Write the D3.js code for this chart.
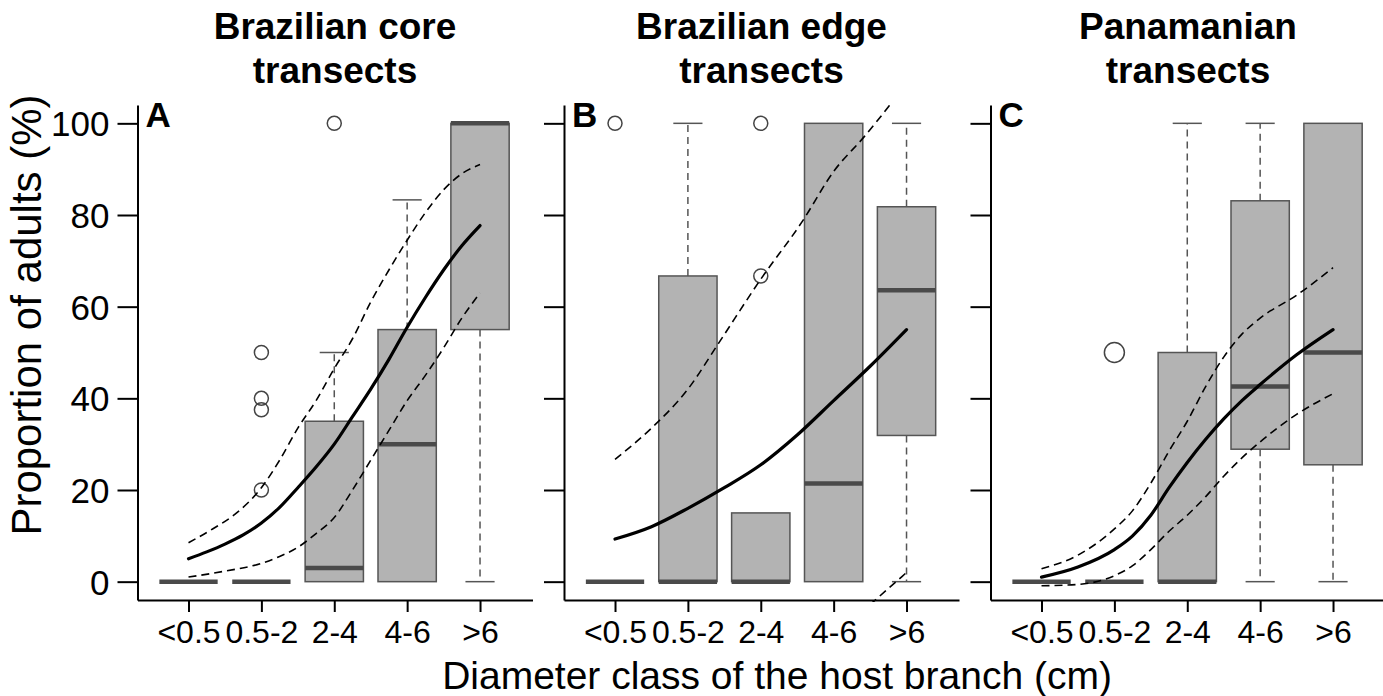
<!DOCTYPE html>
<html>
<head>
<meta charset="utf-8">
<script src="https://cdn.jsdelivr.net/npm/d3@7"></script>
<style>
  body { margin: 0; background: #fff; }
  text { font-family: "Liberation Sans", Arial, Helvetica, sans-serif; }
</style>
</head>
<body>
<script>
var categories = ["<0.5", "0.5-2", "2-4", "4-6", ">6"];
var yTicks = [0, 20, 40, 60, 80, 100];
var titles = [["Brazilian core", "transects"], ["Brazilian edge", "transects"], ["Panamanian", "transects"]];
var letters = ["A", "B", "C"];

// box stats per class: [lower whisker, Q1, median, Q3, upper whisker]
var coreBoxes = [[0, 0, 0, 0, 0], [0, 0, 0, 0, 0], [0, 0, 3, 35, 50], [0, 0, 30, 55, 83.3], [0, 55, 100, 100, 100]];
var coreOutliers = [[], [50, 40, 37.5, 20], [100], [], []];
var edgeBoxes = [[0, 0, 0, 0, 0], [0, 0, 0, 66.7, 100], [0, 0, 0, 15, 15], [0, 0, 21.4, 100, 100], [0, 31.9, 63.6, 81.8, 100]];
var edgeOutliers = [[100], [], [100, 66.7], [], []];
var panamaBoxes = [[0, 0, 0, 0, 0], [0, 0, 0, 0, 0], [0, 0, 0, 50, 100], [0, 28.9, 42.6, 83.1, 100], [0, 25.5, 50, 100, 100]];
var panamaOutliers = [[], [50], [], [], []];

// fitted curves: [class position, %]
var coreFit = [[1, 5], [1.25, 6.5], [1.5, 8.2], [1.75, 10.2], [2, 12.8], [2.25, 16.2], [2.5, 20.5], [2.75, 25], [3, 30], [3.25, 36], [3.5, 42], [3.75, 48.5], [4, 55.5], [4.25, 62], [4.5, 68], [4.75, 73.3], [5, 77.7]];
var coreUpper = [[1, 8.5], [1.33, 11.5], [1.66, 15], [2, 20.5], [2.25, 26.5], [2.5, 33.5], [2.75, 39.5], [3, 46.5], [3.25, 53], [3.5, 61], [3.75, 68], [4, 74.5], [4.25, 80.5], [4.5, 85.5], [4.75, 89], [5, 91]];
var coreLower = [[1, 1], [1.5, 2.3], [2, 4], [2.25, 5.5], [2.5, 7.5], [2.75, 10.5], [3, 14], [3.25, 20], [3.5, 26.5], [3.75, 33], [4, 39.5], [4.25, 45], [4.5, 51], [4.75, 57.5], [5, 63]];

var edgeFit = [[1, 9.3], [1.5, 12], [2, 16], [2.5, 20.5], [3, 25.5], [3.5, 32], [4, 39.5], [4.5, 47], [5, 55]];
var edgeUpper = [[1, 26.7], [1.5, 33.5], [2, 42], [2.42, 52], [3, 66], [3.57, 78.6], [4, 89.5], [4.42, 97.1], [4.76, 103.8], [5, 109]];
var edgeLower = [[4.5, -5], [4.75, -1.5], [5, 2]];

var panamaFit = [[1, 1], [1.5, 3.2], [2, 7], [2.25, 10], [2.5, 14.5], [2.75, 20.5], [3, 26], [3.25, 31], [3.5, 35.5], [3.75, 39.5], [4, 43], [4.5, 49.5], [5, 55]];
var panamaUpper = [[1, 2.8], [1.5, 5.8], [2, 11.5], [2.25, 15.5], [2.5, 21.5], [2.75, 28.5], [3, 35], [3.25, 42.5], [3.5, 49], [3.75, 54], [4, 57.5], [4.5, 62.5], [5, 68.5]];
var panamaLower = [[1, -0.9], [1.5, -0.6], [2, 1.3], [2.25, 3.5], [2.5, 7], [2.75, 11], [3, 14.5], [3.25, 18.5], [3.5, 23], [3.75, 27], [4, 30.5], [4.5, 36.5], [5, 41]];

var width = 1383,
    height = 696;
var plotW = 395,
    plotTop = 105,
    plotBottom = 600;

var panels = [
  {boxes: coreBoxes, outliers: coreOutliers, fit: coreFit, upper: coreUpper, lower: coreLower, left: 137.5, r: 7},
  {boxes: edgeBoxes, outliers: edgeOutliers, fit: edgeFit, upper: edgeUpper, lower: edgeLower, left: 564, r: 7},
  {boxes: panamaBoxes, outliers: panamaOutliers, fit: panamaFit, upper: panamaUpper, lower: panamaLower, left: 990.5, r: 10}
];

var svg = d3.select("body")
        .append("svg")
        .attr("width", width)
        .attr("height", height);

var y = d3.scaleLinear()
        .domain([-4, 104])
        .range([plotBottom, plotTop]);

var line = d3.line().curve(d3.curveMonotoneX);

panels.forEach(function (p, k) {
    var x = d3.scaleLinear()
            .domain([0.3, 5.72])
            .range([p.left, p.left + plotW]);
    var bw = x(1.4) - x(1);

    var g = svg.append("g");

    svg.append("clipPath")
            .attr("id", "clip" + k)
            .append("rect")
            .attr("x", p.left)
            .attr("y", plotTop)
            .attr("width", plotW)
            .attr("height", plotBottom - plotTop + 2);

    // boxes
    p.boxes.forEach(function (b, i) {
        var cx = x(i + 1);
        if (b[4] > b[3]) {
            g.append("line")
                    .attr("x1", cx).attr("x2", cx)
                    .attr("y1", y(b[3])).attr("y2", y(b[4]))
                    .attr("stroke", "#555").attr("stroke-width", 1.5)
                    .attr("stroke-dasharray", "7,5");
            g.append("line")
                    .attr("x1", cx - bw / 2).attr("x2", cx + bw / 2)
                    .attr("y1", y(b[4])).attr("y2", y(b[4]))
                    .attr("stroke", "#555").attr("stroke-width", 1.5);
        }
        if (b[0] < b[1]) {
            g.append("line")
                    .attr("x1", cx).attr("x2", cx)
                    .attr("y1", y(b[1])).attr("y2", y(b[0]))
                    .attr("stroke", "#555").attr("stroke-width", 1.5)
                    .attr("stroke-dasharray", "7,5");
            g.append("line")
                    .attr("x1", cx - bw / 2).attr("x2", cx + bw / 2)
                    .attr("y1", y(b[0])).attr("y2", y(b[0]))
                    .attr("stroke", "#555").attr("stroke-width", 1.5);
        }
        if (b[3] > b[1]) {
            g.append("rect")
                    .attr("x", cx - bw)
                    .attr("y", y(b[3]))
                    .attr("width", bw * 2)
                    .attr("height", y(b[1]) - y(b[3]))
                    .attr("fill", "#b3b3b3")
                    .attr("stroke", "#555")
                    .attr("stroke-width", 1.5);
        }
        g.append("line")
                .attr("x1", cx - bw).attr("x2", cx + bw)
                .attr("y1", y(b[2])).attr("y2", y(b[2]))
                .attr("stroke", "#4a4a4a")
                .attr("stroke-width", 4.5);
    });

    // outliers
    p.outliers.forEach(function (vals, i) {
        g.selectAll(null)
                .data(vals)
                .enter()
                .append("circle")
                .attr("cx", x(i + 1))
                .attr("cy", function (d) {
                    return y(d);
                })
                .attr("r", p.r)
                .attr("fill", "none")
                .attr("stroke", "#444")
                .attr("stroke-width", 1.5);
    });

    // fitted curve and bounds
    var curves = g.append("g").attr("clip-path", "url(#clip" + k + ")");
    line.x(function (d) { return x(d[0]); })
        .y(function (d) { return y(d[1]); });
    [p.upper, p.lower].forEach(function (s) {
        curves.append("path")
                .attr("d", line(s))
                .attr("fill", "none")
                .attr("stroke", "#000")
                .attr("stroke-width", 1.6)
                .attr("stroke-dasharray", "8,5");
    });
    curves.append("path")
            .attr("d", line(p.fit))
            .attr("fill", "none")
            .attr("stroke", "#000")
            .attr("stroke-width", 3.2)
            .attr("stroke-linecap", "round");

    // axes
    var yAxis = d3.axisLeft(y)
            .tickValues(yTicks)
            .tickSize(20)
            .tickSizeOuter(0)
            .tickPadding(8)
            .tickFormat(k === 0 ? d3.format("d") : function () { return ""; });
    var ya = svg.append("g")
            .attr("transform", "translate(" + p.left + ",0)")
            .call(yAxis);

    var xAxis = d3.axisBottom(x)
            .tickValues([1, 2, 3, 4, 5])
            .tickSize(12)
            .tickSizeOuter(0)
            .tickPadding(8)
            .tickFormat(function (d) {
                return categories[d - 1];
            });
    var xa = svg.append("g")
            .attr("transform", "translate(0," + plotBottom + ")")
            .call(xAxis);

    [ya, xa].forEach(function (a) {
        a.selectAll("path, line")
                .attr("stroke", "#000")
                .attr("stroke-width", 2);
        a.selectAll("text")
                .attr("fill", "#000");
    });
    ya.selectAll("text").attr("dy", "0.36em").style("font-size", "35px");
    xa.selectAll("text").attr("dy", "0.72em").style("font-size", "32px");

    // titles
    var title = svg.append("text")
            .attr("x", p.left + plotW / 2)
            .attr("text-anchor", "middle")
            .style("font-weight", "bold")
            .style("font-size", "37px");
    titles[k].forEach(function (t, j) {
        title.append("tspan")
                .attr("x", p.left + plotW / 2)
                .attr("y", 39 + j * 44)
                .text(t);
    });

    svg.append("text")
            .attr("x", p.left + 8)
            .attr("y", 127)
            .style("font-weight", "bold")
            .style("font-size", "35px")
            .text(letters[k]);
});

svg.append("text")
        .attr("transform", "translate(41,315) rotate(-90)")
        .attr("text-anchor", "middle")
        .style("font-size", "42px")
        .text("Proportion of adults (%)");

svg.append("text")
        .attr("x", 777)
        .attr("y", 689)
        .attr("text-anchor", "middle")
        .style("font-size", "39px")
        .text("Diameter class of the host branch (cm)");
</script>
</body>
</html>
